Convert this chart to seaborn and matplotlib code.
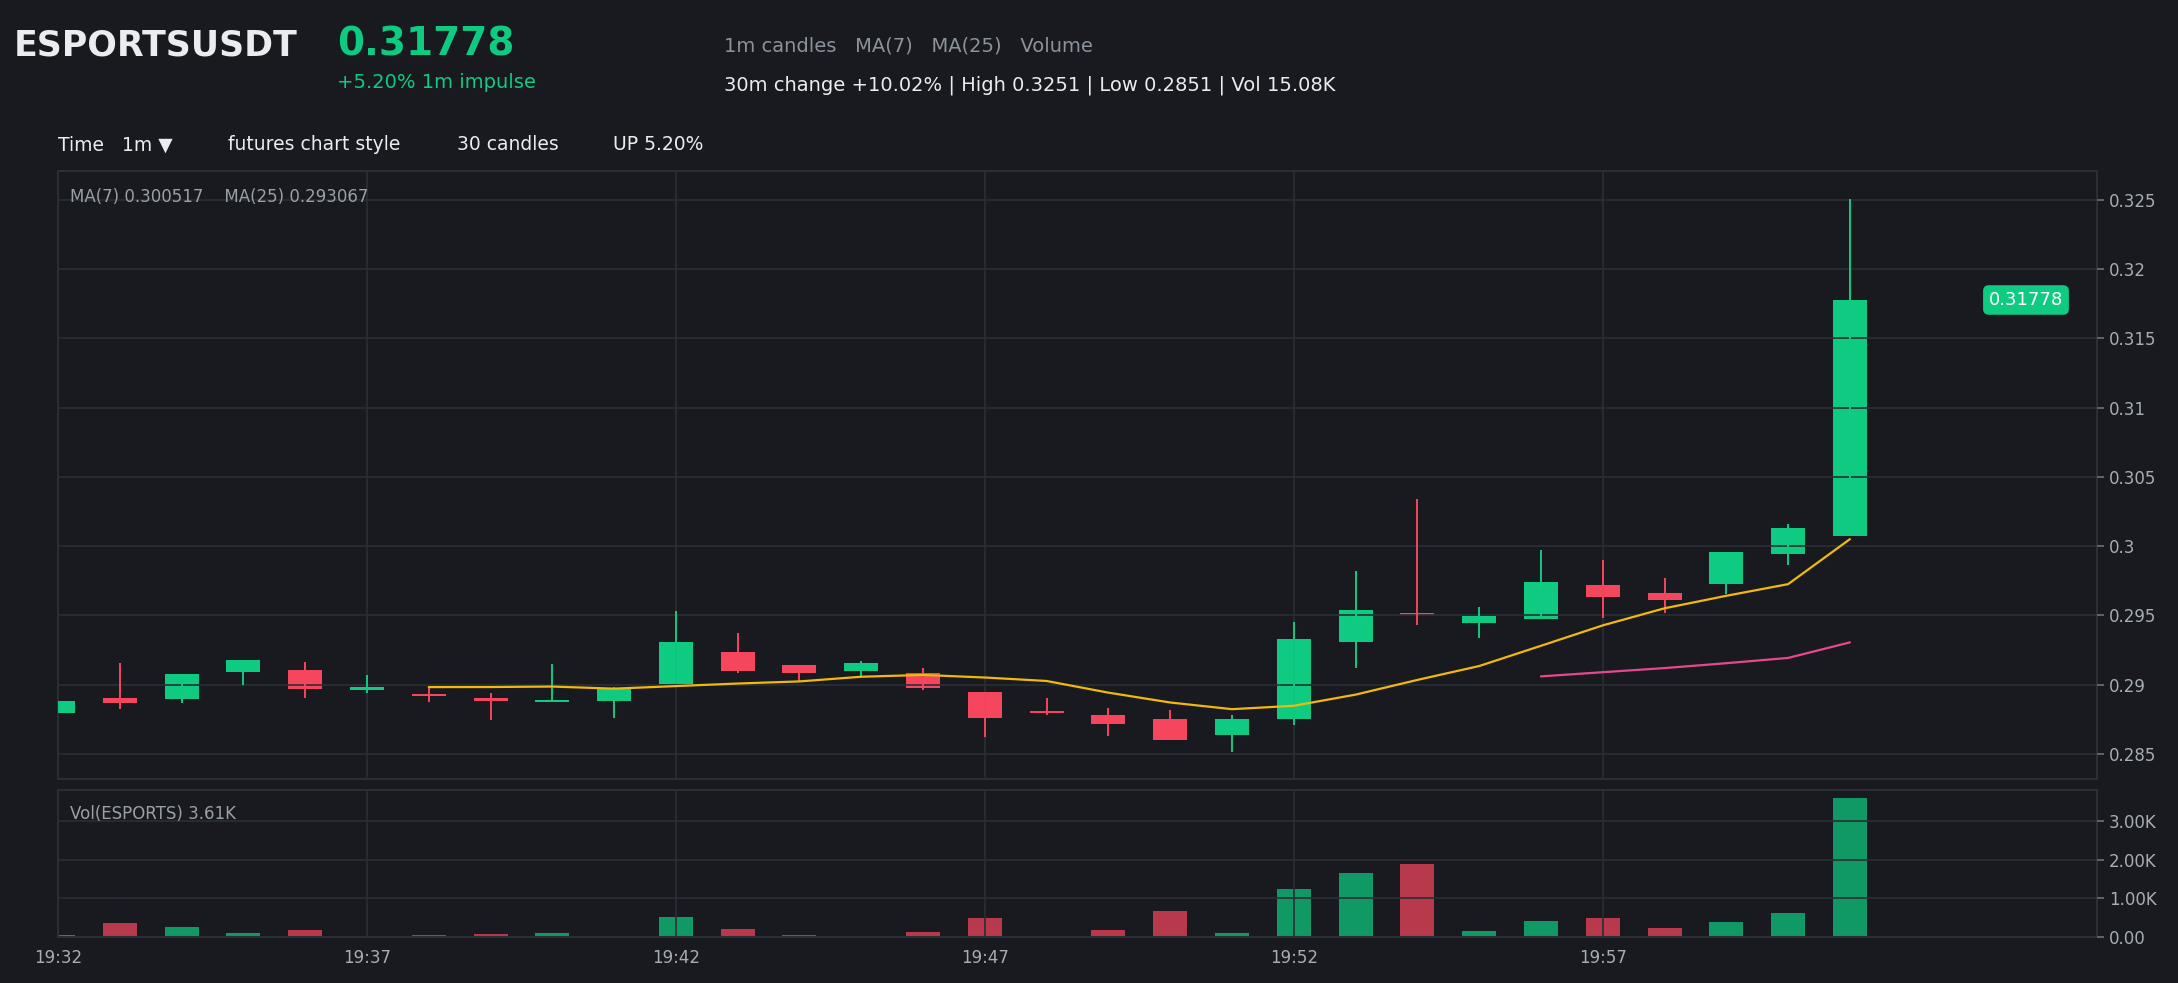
import numpy as np
import pandas as pd
import matplotlib
matplotlib.use('Agg')
import matplotlib.pyplot as plt
import seaborn as sns
from matplotlib.ticker import FuncFormatter, FixedLocator

# 1m candles, 19:32 .. 20:01
opens = [0.28795, 0.28904, 0.28895, 0.29095, 0.29107, 0.28963, 0.28933, 0.28901, 0.28874, 0.28883,
         0.29004, 0.29237, 0.29143, 0.29101, 0.29084, 0.28948, 0.28804, 0.28780, 0.28750, 0.28639,
         0.28753, 0.29305, 0.29511, 0.29449, 0.29476, 0.29723, 0.29661, 0.29729, 0.29947, 0.30077]
highs = [0.28883, 0.29157, 0.29078, 0.29178, 0.29163, 0.29069, 0.28986, 0.28942, 0.29148, 0.28980,
         0.29532, 0.29372, 0.29143, 0.29172, 0.29119, 0.28948, 0.28904, 0.28830, 0.28815, 0.28780,
         0.29452, 0.29821, 0.30339, 0.29561, 0.29974, 0.29900, 0.29770, 0.29959, 0.30160, 0.32506]
lows = [0.28795, 0.28824, 0.28868, 0.29001, 0.28904, 0.28942, 0.28874, 0.28745, 0.28874, 0.28759,
        0.29004, 0.29081, 0.29016, 0.29054, 0.28963, 0.28621, 0.28780, 0.28633, 0.28603, 0.28515,
        0.28712, 0.29119, 0.29434, 0.29340, 0.29476, 0.29482, 0.29517, 0.29658, 0.29865, 0.30077]
closes = [0.28883, 0.28868, 0.29078, 0.29178, 0.28972, 0.28980, 0.28921, 0.28886, 0.28892, 0.28972,
          0.29308, 0.29101, 0.29087, 0.29157, 0.28977, 0.28762, 0.28797, 0.28718, 0.28603, 0.28750,
          0.29328, 0.29541, 0.29505, 0.29499, 0.29741, 0.29635, 0.29614, 0.29959, 0.30130, 0.31778]
volumes = [60, 355, 250, 113, 190, 15, 40, 87, 113, 35,
           530, 217, 40, 5, 140, 486, 35, 190, 685, 113,
           1258, 1648, 1882, 165, 425, 486, 243, 400, 633, 3610]
tick_labels = ['19:32', '19:37', '19:42', '19:47', '19:52', '19:57']
ma_label = 'MA(7) 0.300517    MA(25) 0.293067'
vol_label = 'Vol(ESPORTS) 3.61K'

BG = '#181a20'
GRID = '#2a2e35'
UP = '#0ecb81'
DOWN = '#f6465d'
TXT = '#a7adb5'

sns.set_theme(style='dark')
plt.rcParams['font.family'] = ['DejaVu Sans']

df = pd.DataFrame({'o': opens, 'h': highs, 'l': lows, 'c': closes, 'v': volumes})
df['x'] = np.arange(len(df))
df['dir'] = np.where(df['c'] >= df['o'], 'up', 'down')
df['ma7'] = df['c'].rolling(7).mean()
df['ma25'] = df['c'].rolling(25).mean()

fig = plt.figure(figsize=(21.78, 9.83), dpi=100, facecolor=BG)
ax = fig.add_axes([0.02663, 0.2075, 0.9362, 0.6185], facecolor=BG)
axv = fig.add_axes([0.02663, 0.0468, 0.9362, 0.1495], facecolor=BG)

colors = df['dir'].map({'up': UP, 'down': DOWN})
body_lo = np.minimum(df['o'], df['c'])
body_h = np.maximum(np.abs(df['c'] - df['o']), 0.00012)
# wicks above the grid, bodies under it
ax.vlines(df['x'], df['l'], df['h'], colors=colors, linewidth=1.4, zorder=3)
ax.bar(df['x'], body_h, bottom=body_lo, width=0.55, color=colors, linewidth=0, zorder=2)

sns.lineplot(data=df, x='x', y='ma7', ax=ax, color='#f0b90b', linewidth=1.6, zorder=3)
sns.lineplot(data=df, x='x', y='ma25', ax=ax, color='#e6488d', linewidth=1.6, zorder=3)

sns.barplot(data=df, x='x', y='v', hue='dir', palette={'up': UP, 'down': DOWN},
            native_scale=True, dodge=False, width=0.55, errorbar=None, saturation=1,
            alpha=0.72, linewidth=0, legend=False, ax=axv)

last = closes[-1]
ax.text(31.85, last, f'{last:.5f}', ha='center', va='center', color='white', fontsize=13,
        bbox=dict(boxstyle='round,pad=0.32', fc=UP, ec='none'), zorder=5)

for a in (ax, axv):
    a.set_xlim(0, 33)
    a.xaxis.set_major_locator(FixedLocator([0, 5, 10, 15, 20, 25]))
    a.grid(True, color=GRID, linewidth=1.2)
    a.set_axisbelow(False)
    a.yaxis.tick_right()
    a.tick_params(colors=TXT, labelsize=12, length=5, width=1.2, color='#6a707a')
    for s in a.spines.values():
        s.set_color(GRID)
        s.set_linewidth(1.5)
    a.set_xlabel('')
    a.set_ylabel('')

ax.set_ylim(0.28319, 0.32709)
ax.yaxis.set_major_locator(FixedLocator([0.285, 0.29, 0.295, 0.30, 0.305, 0.31, 0.315, 0.32, 0.325]))
ax.yaxis.set_major_formatter(FuncFormatter(lambda v, p: f'{v:g}'))
ax.set_xticklabels([])

axv.set_ylim(0, 3813)
axv.yaxis.set_major_locator(FixedLocator([0, 1000, 2000, 3000]))
axv.yaxis.set_major_formatter(FuncFormatter(lambda v, p: f'{v / 1000:.2f}K' if v else '0.00'))
axv.set_xticks([0, 5, 10, 15, 20, 25])
axv.set_xticklabels(tick_labels)
axv.set_xlim(0, 33)

ax.text(0.006, 0.957, ma_label, transform=ax.transAxes, color='#9aa0a8', fontsize=12, va='center')
axv.text(0.006, 0.84, vol_label, transform=axv.transAxes, color='#9aa0a8', fontsize=12, va='center')

# header
fig.text(14 / 2178, 1 - 46 / 983, 'ESPORTSUSDT', color='#eaecef', fontsize=25, fontweight='bold', va='center')
fig.text(337 / 2178, 1 - 45 / 983, f'{last:.5f}', color=UP, fontsize=28, fontweight='bold', va='center')
fig.text(337 / 2178, 1 - 83 / 983, '+5.20% 1m impulse', color=UP, fontsize=14, va='center')
fig.text(724 / 2178, 1 - 46 / 983, '1m candles   MA(7)   MA(25)   Volume', color='#8b929b', fontsize=14, va='center')
fig.text(724 / 2178, 1 - 85 / 983, '30m change +10.02% | High 0.3251 | Low 0.2851 | Vol 15.08K',
         color='#eaecef', fontsize=14, va='center')
fig.text(58 / 2178, 1 - 145 / 983, 'Time   1m ▼', color='#eaecef', fontsize=13.5, va='center')
fig.text(228 / 2178, 1 - 145 / 983, 'futures chart style', color='#eaecef', fontsize=13.5, va='center')
fig.text(457 / 2178, 1 - 145 / 983, '30 candles', color='#eaecef', fontsize=13.5, va='center')
fig.text(613 / 2178, 1 - 145 / 983, 'UP 5.20%', color='#eaecef', fontsize=13.5, va='center')

fig.savefig('out.png', dpi=100, facecolor=BG)
